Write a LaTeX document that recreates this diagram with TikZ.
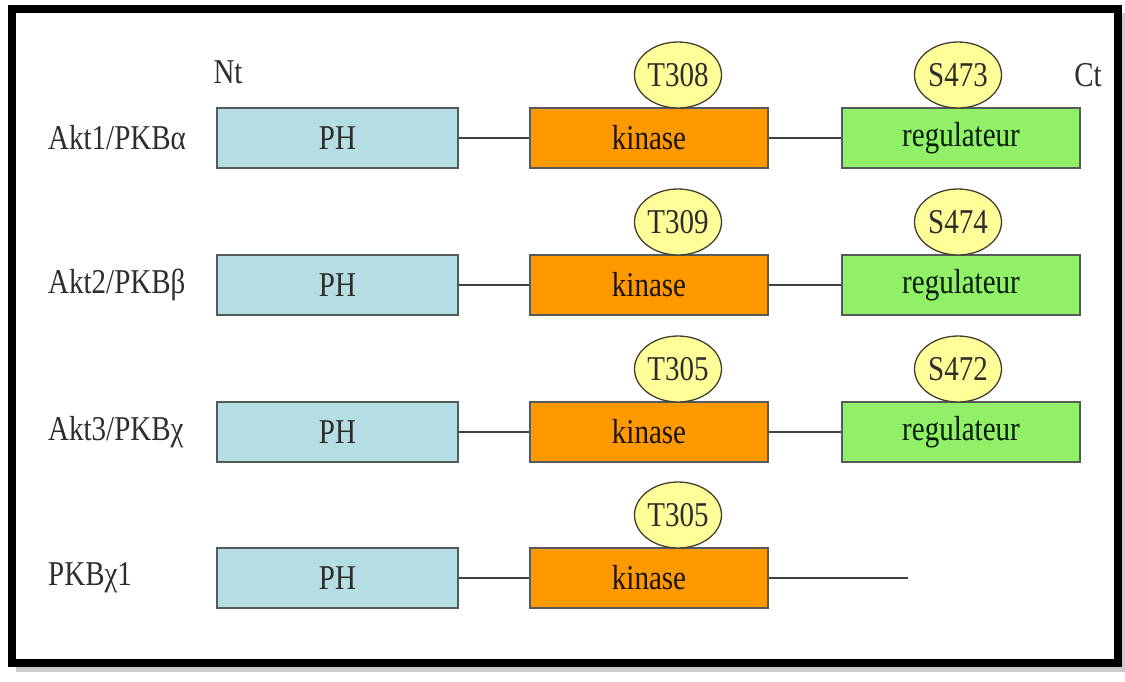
\documentclass[tikz,border=0pt]{standalone}
\usepackage{fontspec}
\setmainfont{Liberation Serif}
\usetikzlibrary{shapes.geometric}
\definecolor{phblue}{RGB}{180,222,226}
\definecolor{kinorange}{RGB}{255,153,0}
\definecolor{reggreen}{RGB}{146,240,104}
\definecolor{siteyellow}{RGB}{255,255,153}
\definecolor{outl}{RGB}{85,90,90}
\definecolor{txt}{RGB}{45,45,45}
\newcommand\tallt[1]{\scalebox{1}[1.2]{#1}}
\begin{document}
\begin{tikzpicture}[x=1pt,y=-1pt,
  every node/.style={font=\fontsize{29}{34}\selectfont, text=txt},
  dom/.style={draw=outl, line width=1.5pt, minimum height=60pt, inner sep=0pt},
  phbox/.style={dom, fill=phblue, minimum width=241pt},
  kinbox/.style={dom, fill=kinorange, minimum width=238pt, text=black!85!brown},
  regbox/.style={dom, fill=reggreen, minimum width=238pt, text=black!80!green!60!black},
  site/.style={ellipse, draw=black!70!olive, line width=1.3pt, fill=siteyellow, minimum width=87pt, minimum height=66pt, inner sep=0pt},
  link/.style={draw=black!75, line width=1.5pt},
  rowlab/.style={anchor=west, inner sep=0pt}
]
\useasboundingbox (0,0) rectangle (1125,681);
% frame with shadow
\fill[black!35, opacity=0.6] (16,13) rectangle (1125,672);
\fill[white] (12,9) rectangle (1118,663);
\draw[line width=8pt, black] (12,9) rectangle (1118,663);

% headers
\node (nt) at (228,72) {\tallt{Nt}};
\node (ct) at (1088,75) {\tallt{Ct}};

% row 1
\node[rowlab] (l1) at (48,138) {\tallt{Akt1/PKBα}};
\node[phbox] (ph1) at (337.5,138) {\tallt{PH}};
\node[kinbox] (k1) at (649,138) {\tallt{kinase}};
\node[regbox] (r1) at (961,138) {\tallt{regulateur}};
\node[site] (s1a) at (678,75) {\tallt{T308}};
\node[site] (s1b) at (958,75) {\tallt{S473}};
\draw[link] (ph1) -- (k1);
\draw[link] (k1) -- (r1);

% row 2
\node[rowlab] (l2) at (48,285) {\tallt{Akt2/PKBβ}};
\node[phbox] (ph2) at (337.5,285) {\tallt{PH}};
\node[kinbox] (k2) at (649,285) {\tallt{kinase}};
\node[regbox] (r2) at (961,285) {\tallt{regulateur}};
\node[site] (s2a) at (678,222) {\tallt{T309}};
\node[site] (s2b) at (958,222) {\tallt{S474}};
\draw[link] (ph2) -- (k2);
\draw[link] (k2) -- (r2);

% row 3
\node[rowlab] (l3) at (48,432) {\tallt{Akt3/PKBχ}};
\node[phbox] (ph3) at (337.5,432) {\tallt{PH}};
\node[kinbox] (k3) at (649,432) {\tallt{kinase}};
\node[regbox] (r3) at (961,432) {\tallt{regulateur}};
\node[site] (s3a) at (678,369) {\tallt{T305}};
\node[site] (s3b) at (958,369) {\tallt{S472}};
\draw[link] (ph3) -- (k3);
\draw[link] (k3) -- (r3);

% row 4
\node[rowlab] (l4) at (48,578) {\tallt{PKBχ1}};
\node[phbox] (ph4) at (337.5,578) {\tallt{PH}};
\node[kinbox] (k4) at (649,578) {\tallt{kinase}};
\node[site] (s4a) at (678,515) {\tallt{T305}};
\coordinate (e4) at (908,578);
\draw[link] (ph4) -- (k4);
\draw[link] (k4) -- (e4);
\end{tikzpicture}
\end{document}
